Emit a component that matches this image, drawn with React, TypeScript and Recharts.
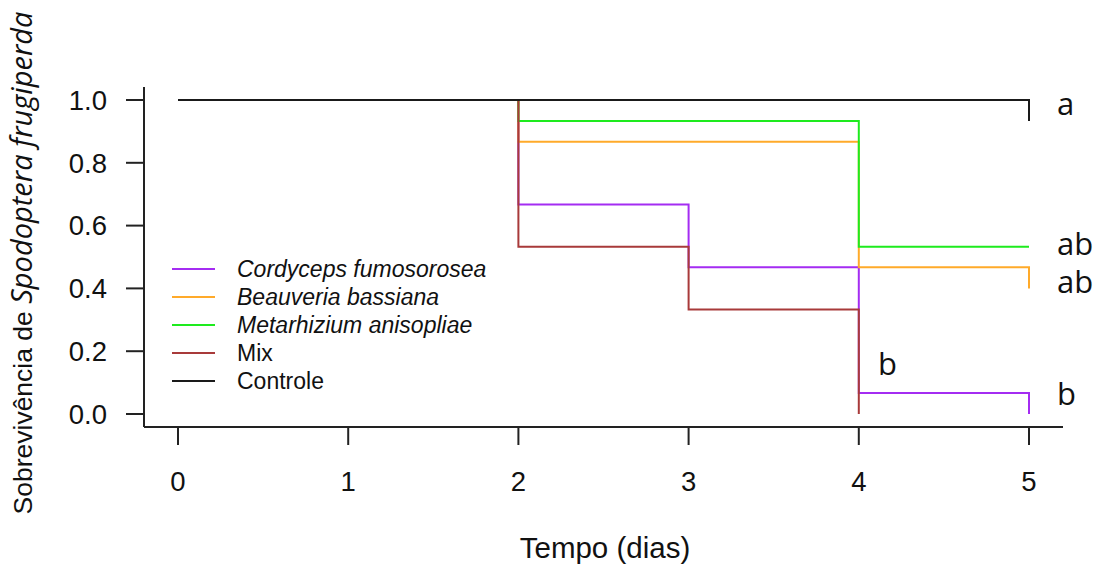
import React from 'react';
import { LineChart, Line, XAxis, YAxis, Legend, ReferenceDot } from 'recharts';

// Kaplan-Meier steps: time (days) and survival proportion
const cordycepsT = [0, 2, 3, 4, 5];
const cordycepsS = [1, 0.667, 0.467, 0.067, 0];
const beauveriaT = [0, 2, 4, 5];
const beauveriaS = [1, 0.867, 0.467, 0.4];
const metarhiziumT = [0, 2, 4, 5];
const metarhiziumS = [1, 0.933, 0.533, 0.533];
const mixT = [0, 2, 3, 4];
const mixS = [1, 0.533, 0.333, 0];
const controleT = [0, 5];
const controleS = [1, 0.933];

const xTicks = [0, 1, 2, 3, 4, 5];
const yTicks = [0, 0.2, 0.4, 0.6, 0.8, 1.0];

// significance letters (data coords)
const letterText = ['a', 'ab', 'ab', 'b', 'b'];
const letterX = [5.165, 5.165, 5.165, 4.113, 5.165];
const letterY = [0.952, 0.506, 0.385, 0.124, 0.029];

const zip = (t: number[], s: number[]) => t.map((v, i) => ({ t: v, s: s[i] }));

const series = [
  { name: 'Cordyceps fumosorosea', italic: true, color: '#A42CF2', data: zip(cordycepsT, cordycepsS) },
  { name: 'Beauveria bassiana', italic: true, color: '#FFAA2A', data: zip(beauveriaT, beauveriaS) },
  { name: 'Metarhizium anisopliae', italic: true, color: '#1EEB1E', data: zip(metarhiziumT, metarhiziumS) },
  { name: 'Mix', italic: false, color: '#A83A3A', data: zip(mixT, mixS) },
  { name: 'Controle', italic: false, color: '#1a1a1a', data: zip(controleT, controleS) },
];

const FONT = '"Liberation Sans", Arial, sans-serif';
const AXIS = '#222';

const renderLegend = () => (
  <div style={{ fontFamily: FONT, fontSize: 23, color: '#111' }}>
    {series.map((s) => (
      <div key={s.name} style={{ display: 'flex', alignItems: 'center', height: 28 }}>
        <span style={{ display: 'inline-block', width: 43, height: 2, background: s.color, marginRight: 22 }} />
        <span style={{ fontStyle: s.italic ? 'italic' : 'normal', whiteSpace: 'nowrap' }}>{s.name}</span>
      </div>
    ))}
  </div>
);

export default function App() {
  return (
    <div style={{ position: 'absolute', left: 0, top: 0, background: '#fff' }}>
      <LineChart width={1094} height={567} margin={{ top: 87, right: 31, left: 0, bottom: 0 }}>
        <XAxis
          type="number"
          dataKey="t"
          domain={[0, 5]}
          ticks={xTicks}
          padding={{ left: 34, right: 34 }}
          height={140}
          tickSize={18}
          tickMargin={26}
          axisLine={{ stroke: AXIS, strokeWidth: 2 }}
          tickLine={{ stroke: AXIS, strokeWidth: 2 }}
          tick={{ fill: '#111', fontSize: 27.5, fontFamily: FONT }}
          label={{
            content: () => (
              <text x={605} y={558} textAnchor="middle" fontSize={29.5} fontFamily={FONT} fill="#111">
                Tempo (dias)
              </text>
            ),
          }}
        />
        <YAxis
          type="number"
          domain={[0, 1]}
          ticks={yTicks}
          padding={{ top: 13, bottom: 13 }}
          width={144}
          tickSize={18}
          tickMargin={19}
          tickFormatter={(v: number) => v.toFixed(1)}
          axisLine={{ stroke: AXIS, strokeWidth: 2 }}
          tickLine={{ stroke: AXIS, strokeWidth: 2 }}
          tick={{ fill: '#111', fontSize: 27.5, fontFamily: FONT }}
          label={{
            content: () => (
              <text
                x={32}
                y={263}
                transform="rotate(-90, 32, 263)"
                textAnchor="middle"
                fontSize={26.5}
                fontFamily={FONT}
                fill="#111"
              >
                <tspan>Sobrevivência de </tspan>
                <tspan fontStyle="italic" fontFamily='"Open Sans", sans-serif' fontSize={29}>
                  Spodoptera frugiperda
                </tspan>
              </text>
            ),
          }}
        />
        {series.map((s) => (
          <Line
            key={s.name}
            data={s.data}
            dataKey="s"
            name={s.name}
            type="stepAfter"
            stroke={s.color}
            strokeWidth={2}
            dot={false}
            activeDot={false}
            isAnimationActive={false}
          />
        ))}
        {letterText.map((txt, i) => (
          <ReferenceDot
            key={i}
            x={letterX[i]}
            y={letterY[i]}
            r={0}
            ifOverflow="visible"
            shape={(p: any) => (
              <text x={p.cx} y={p.cy} fontSize={31} fontFamily='"Open Sans", sans-serif' fill="#111">
                {txt}
              </text>
            )}
          />
        ))}
        <Legend
          layout="vertical"
          align="center"
          verticalAlign="middle"
          content={renderLegend}
          wrapperStyle={{ left: 172, top: 255, width: 'auto' }}
        />
      </LineChart>
    </div>
  );
}
